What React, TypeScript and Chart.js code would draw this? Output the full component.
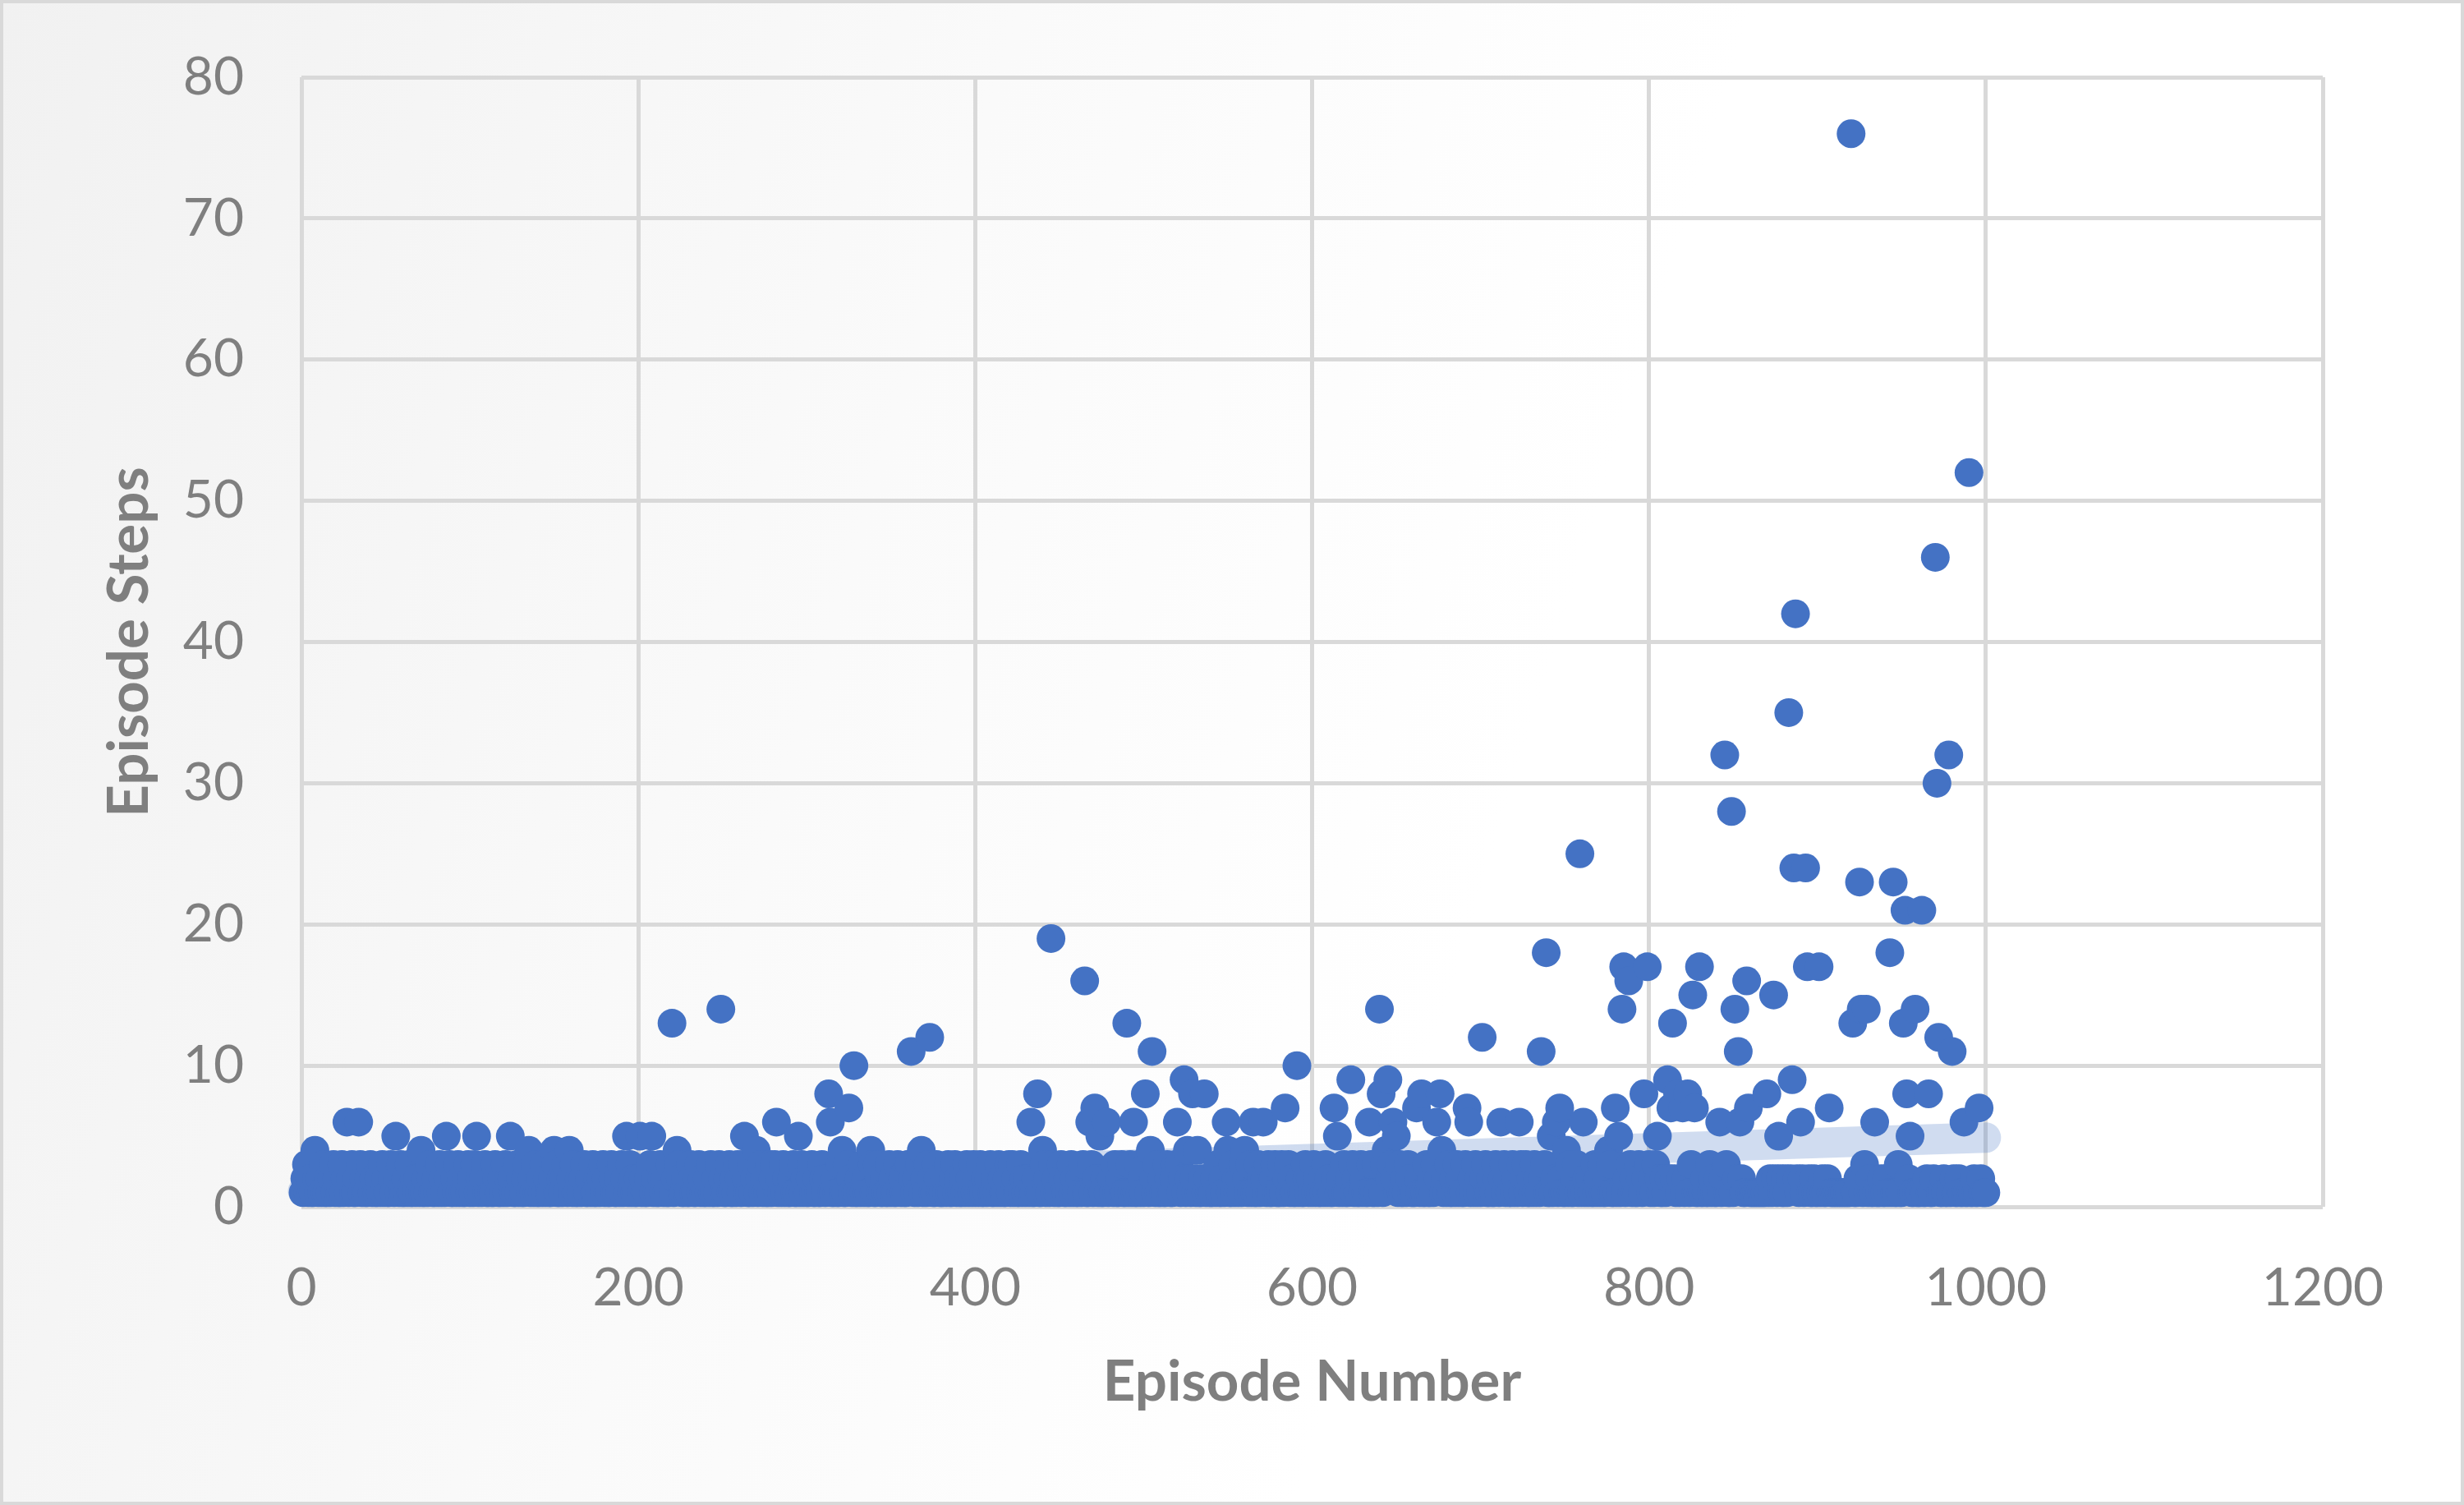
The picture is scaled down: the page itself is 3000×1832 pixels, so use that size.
import React, { useEffect, useRef } from "react";
import { Chart, registerables } from "chart.js";

Chart.register(...registerables);

// Axis ticks
const xTickStep = 200;
const xMin = 0;
const xMax = 1200;
const yTickStep = 10;
const yMin = 0;
const yMax = 80;

// Low, dense band of episode steps (episodes 1..1000, 20 per row)
const baseSteps: number[] = [
  1, 2, 3, 1, 2, 1, 1, 3, 2, 1, 2, 1, 3, 1, 1, 2, 1, 2, 3, 1,
  2, 1, 1, 3, 1, 2, 1, 1, 2, 3, 1, 1, 2, 1, 3, 1, 2, 1, 1, 2,
  3, 1, 2, 1, 1, 2, 1, 3, 1, 2, 1, 1, 3, 2, 1, 1, 2, 1, 3, 1,
  1, 2, 1, 3, 1, 1, 2, 1, 2, 1, 3, 1, 1, 2, 1, 3, 2, 1, 1, 2,
  1, 3, 1, 2, 1, 1, 2, 3, 1, 1, 2, 1, 3, 1, 2, 1, 1, 2, 3, 1,
  2, 1, 3, 1, 1, 2, 1, 2, 3, 1, 1, 2, 1, 1, 3, 2, 1, 1, 2, 1,
  3, 1, 2, 1, 2, 1, 1, 3, 1, 2, 1, 1, 2, 3, 1, 1, 2, 1, 3, 1,
  1, 2, 1, 3, 1, 2, 1, 1, 2, 1, 3, 1, 1, 2, 1, 2, 3, 1, 1, 2,
  1, 3, 1, 1, 2, 1, 2, 3, 1, 1, 2, 1, 3, 1, 1, 2, 1, 2, 3, 1,
  2, 1, 1, 3, 2, 1, 1, 2, 1, 3, 1, 2, 1, 1, 3, 1, 2, 1, 1, 2,
  3, 1, 2, 1, 1, 2, 3, 1, 1, 2, 1, 1, 3, 2, 1, 2, 1, 1, 3, 1,
  1, 2, 1, 3, 2, 1, 1, 2, 1, 1, 3, 2, 1, 1, 2, 3, 1, 2, 1, 1,
  2, 1, 3, 1, 1, 2, 1, 3, 1, 2, 1, 1, 2, 3, 1, 1, 2, 1, 3, 2,
  1, 3, 1, 2, 1, 1, 3, 1, 2, 1, 1, 2, 3, 1, 2, 1, 1, 3, 1, 2,
  3, 1, 1, 2, 1, 3, 1, 2, 1, 1, 2, 3, 1, 1, 2, 1, 3, 1, 2, 1,
  1, 2, 3, 1, 1, 2, 1, 1, 3, 2, 1, 2, 1, 3, 1, 1, 2, 1, 1, 3,
  2, 1, 1, 3, 1, 2, 1, 3, 1, 1, 2, 1, 3, 1, 2, 1, 1, 2, 3, 1,
  1, 3, 2, 1, 1, 2, 1, 1, 3, 1, 2, 1, 1, 3, 2, 1, 2, 1, 1, 3,
  3, 1, 2, 1, 2, 1, 3, 1, 1, 2, 1, 3, 1, 2, 1, 1, 3, 2, 1, 1,
  1, 2, 1, 3, 1, 1, 2, 3, 1, 2, 1, 1, 2, 1, 3, 1, 2, 1, 3, 1,
  2, 1, 3, 1, 1, 2, 1, 2, 3, 1, 1, 2, 1, 3, 1, 2, 1, 1, 2, 3,
  1, 3, 1, 2, 1, 1, 3, 1, 2, 1, 2, 1, 3, 1, 1, 2, 3, 1, 1, 2,
  3, 1, 2, 1, 1, 3, 1, 2, 1, 1, 3, 2, 1, 1, 2, 1, 3, 1, 2, 1,
  1, 2, 1, 3, 2, 1, 1, 2, 3, 1, 1, 2, 1, 3, 1, 1, 2, 3, 1, 2,
  2, 1, 3, 1, 1, 2, 3, 1, 1, 2, 1, 3, 1, 2, 1, 1, 3, 1, 2, 1,
  1, 3, 1, 2, 1, 2, 1, 3, 1, 1, 2, 1, 1, 3, 2, 1, 1, 2, 3, 1,
  3, 1, 2, 1, 1, 3, 2, 1, 1, 2, 1, 3, 1, 1, 2, 3, 1, 2, 1, 1,
  1, 2, 1, 3, 1, 1, 2, 1, 3, 2, 1, 1, 3, 1, 2, 1, 2, 1, 3, 1,
  2, 1, 3, 1, 2, 1, 1, 3, 1, 2, 1, 2, 1, 3, 1, 1, 2, 3, 1, 1,
  1, 3, 1, 1, 2, 3, 1, 2, 1, 1, 3, 1, 2, 1, 1, 3, 2, 1, 2, 1,
  3, 1, 2, 1, 1, 2, 1, 3, 1, 2, 1, 1, 3, 2, 1, 1, 2, 1, 3, 1,
  1, 2, 1, 3, 1, 2, 1, 1, 3, 1, 2, 1, 1, 2, 3, 1, 1, 3, 1, 2,
  2, 1, 3, 1, 1, 2, 3, 1, 2, 1, 1, 3, 1, 1, 2, 1, 3, 2, 1, 1,
  1, 3, 2, 1, 2, 1, 1, 3, 1, 1, 2, 1, 3, 1, 2, 3, 1, 1, 2, 1,
  3, 1, 1, 2, 1, 3, 1, 2, 1, 1, 3, 2, 1, 1, 2, 1, 3, 1, 2, 1,
  1, 2, 3, 1, 1, 2, 1, 1, 3, 2, 1, 1, 2, 3, 1, 2, 1, 1, 3, 1,
  2, 1, 1, 3, 1, 2, 3, 1, 1, 2, 1, 3, 1, 2, 1, 1, 2, 3, 1, 1,
  1, 3, 1, 2, 1, 1, 3, 2, 1, 1, 2, 1, 3, 1, 1, 2, 3, 1, 2, 1,
  3, 1, 2, 1, 2, 1, 1, 3, 1, 2, 1, 3, 1, 1, 2, 1, 3, 1, 1, 2,
  1, 2, 1, 3, 1, 1, 2, 1, 3, 1, 2, 1, 1, 3, 2, 1, 1, 2, 1, 3,
  1, 2, 1, 3, 1, 2, 1, 1, 2, 1, 1, 2, 1, 1, 2, 1, 3, 1, 2, 1,
  1, 2, 1, 1, 3, 1, 2, 1, 1, 2, 1, 1, 2, 1, 1, 3, 1, 2, 1, 1,
  2, 1, 1, 2, 1, 3, 1, 1, 2, 1, 1, 2, 1, 1, 2, 1, 1, 1, 1, 1,
  1, 1, 1, 1, 1, 1, 1, 1, 1, 1, 1, 2, 1, 1, 2, 1, 1, 2, 1, 1,
  2, 1, 1, 2, 1, 1, 1, 2, 1, 1, 2, 1, 1, 1, 2, 1, 1, 2, 1, 1,
  1, 1, 2, 1, 1, 2, 1, 1, 1, 1, 1, 1, 1, 1, 1, 1, 1, 1, 1, 1,
  2, 1, 1, 2, 1, 1, 1, 3, 1, 1, 2, 1, 1, 2, 1, 1, 1, 2, 1, 1,
  2, 1, 1, 1, 2, 1, 1, 3, 1, 1, 2, 1, 1, 2, 1, 1, 1, 2, 1, 1,
  1, 2, 1, 1, 2, 1, 1, 1, 2, 1, 1, 3, 1, 1, 2, 1, 1, 2, 1, 1,
  2, 1, 1, 2, 1, 1, 2, 1, 1, 2, 1, 1, 2, 1, 1, 1, 2, 1, 1, 1,
];

// Episodes that took more steps
const peakEpisodes: number[] = [
  8, 27, 34, 56, 71, 86, 104, 124, 135, 150, 159, 193, 201, 208, 220, 223, 249, 263, 270, 282,
  295, 313, 314, 321, 325, 328, 338, 362, 368, 373, 433, 437, 440, 445, 465, 468, 471, 474, 478, 490,
  494, 501, 504, 505, 520, 524, 526, 529, 532, 536, 549, 550, 560, 565, 571, 584, 591, 613, 615, 623,
  634, 640, 641, 644, 645, 648, 650, 662, 665, 674, 676, 677, 692, 693, 701, 712, 723, 736, 739, 742,
  745, 747, 751, 759, 761, 776, 780, 782, 784, 785, 788, 797, 799, 805, 811, 813, 814, 817, 820, 823,
  826, 827, 830, 842, 845, 849, 851, 853, 854, 858, 859, 870, 874, 877, 883, 885, 886, 887, 890, 893,
  894, 901, 907, 920, 921, 925, 926, 929, 934, 943, 945, 951, 952, 953, 955, 958, 962, 966, 970, 971,
  972, 978, 980, 987, 990, 996,
];
const peakSteps: number[] = [
  4, 6, 6, 5, 4, 5, 5, 5, 4, 4, 4, 5, 5, 5, 13, 4, 14, 5, 4, 6,
  5, 8, 6, 4, 7, 10, 4, 11, 4, 12, 6, 8, 4, 19, 16, 6, 7, 5, 6, 13,
  6, 8, 4, 11, 6, 9, 4, 8, 4, 8, 6, 4, 4, 6, 6, 7, 10, 7, 5, 9,
  6, 14, 8, 4, 9, 6, 5, 7, 8, 6, 8, 4, 7, 6, 12, 6, 6, 11, 18, 5,
  6, 7, 4, 25, 6, 4, 7, 5, 14, 17, 16, 8, 17, 5, 9, 7, 13, 8, 7, 8,
  15, 7, 17, 6, 32, 28, 14, 11, 6, 16, 7, 8, 15, 5, 35, 9, 24, 42, 6, 24,
  17, 17, 7, 76, 13, 23, 14, 14, 6, 18, 23, 13, 21, 8, 5, 14, 21, 8, 46, 30,
  12, 32, 11, 6, 52, 7,
];

// Linear trendline end points
const trendEpisodes: number[] = [1, 1000];
const trendSteps: number[] = [1.1, 4.9];

const FONT = "Lato";
const TEXT_GREY = "#7f7f7f";
const GRID_GREY = "#d9d9d9";

export default function App() {
  const ref = useRef<HTMLCanvasElement | null>(null);

  useEffect(() => {
    document.body.style.margin = "0";
    const canvas = ref.current;
    if (!canvas) return;

    const peakMap = new Map<number, number>();
    peakEpisodes.forEach((e, i) => peakMap.set(e, peakSteps[i]));
    const points = baseSteps.map((s, i) => ({
      x: i + 1,
      y: peakMap.has(i + 1) ? (peakMap.get(i + 1) as number) : s,
    }));
    const trend = trendEpisodes.map((e, i) => ({ x: e, y: trendSteps[i] }));

    const frame = {
      id: "frame",
      afterDraw(chart: any) {
        const ctx = chart.ctx;
        ctx.save();
        ctx.strokeStyle = GRID_GREY;
        ctx.lineWidth = 4;
        ctx.strokeRect(2, 2, chart.width - 4, chart.height - 4);
        ctx.restore();
      },
    };

    const plain = (v: any) => String(v);

    const chart = new Chart(canvas, {
      type: "scatter",
      data: {
        datasets: [
          {
            type: "line",
            data: trend,
            borderColor: "rgba(68,114,196,0.25)",
            borderWidth: 37,
            borderCapStyle: "round",
            pointRadius: 0,
            pointHoverRadius: 0,
            fill: false,
            order: 2,
            clip: false,
          } as any,
          {
            data: points,
            backgroundColor: "#4472C4",
            borderWidth: 0,
            pointRadius: 17.5,
            pointHoverRadius: 17.5,
            order: 1,
            clip: false,
          } as any,
        ],
      },
      options: {
        animation: false,
        responsive: false,
        devicePixelRatio: 1,
        events: [],
        layout: { padding: { left: 0, right: 172, top: 94, bottom: 0 } },
        plugins: {
          legend: { display: false },
          tooltip: { enabled: false },
        },
        scales: {
          x: {
            type: "linear",
            min: xMin,
            max: xMax,
            ticks: {
              stepSize: xTickStep,
              color: TEXT_GREY,
              font: { family: FONT, size: 64 },
              padding: 61,
              callback: plain,
            },
            grid: { color: GRID_GREY, lineWidth: 5, drawTicks: false },
            border: { display: false },
            title: {
              display: true,
              text: "Episode Number",
              color: TEXT_GREY,
              font: { family: FONT, size: 69, weight: "bold" },
              padding: { top: 0, bottom: 108 },
            },
            afterFit: (s: any) => {
              s.height = 363;
              s.paddingLeft = 0;
              s.paddingRight = 0;
            },
          },
          y: {
            type: "linear",
            min: yMin,
            max: yMax,
            ticks: {
              stepSize: yTickStep,
              color: TEXT_GREY,
              font: { family: FONT, size: 64 },
              padding: 70,
              callback: plain,
            },
            grid: { color: GRID_GREY, lineWidth: 5, drawTicks: false },
            border: { display: false },
            title: {
              display: true,
              text: "Episode Steps",
              color: TEXT_GREY,
              font: { family: FONT, size: 69, weight: "bold" },
              padding: { top: 116, bottom: 0 },
            },
            afterFit: (s: any) => {
              s.width = 367;
              s.paddingTop = 0;
              s.paddingBottom = 0;
            },
          },
        },
      } as any,
      plugins: [frame],
    });

    return () => chart.destroy();
  }, []);

  return (
    <canvas
      ref={ref}
      width={3000}
      height={1832}
      style={{
        display: "block",
        width: 3000,
        height: 1832,
        background: "linear-gradient(107deg, #f1f1f1 0%, #fafafa 35%, #ffffff 60%)",
      }}
    />
  );
}
